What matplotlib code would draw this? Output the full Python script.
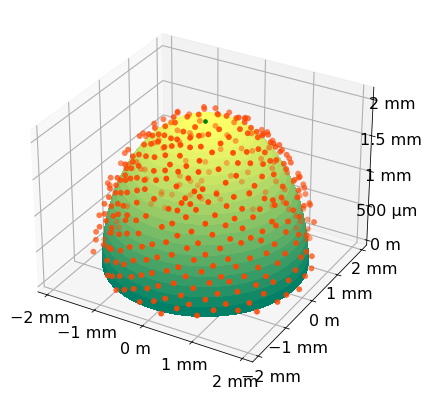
from matplotlib import pyplot as plt
from matplotlib.ticker import EngFormatter
import numpy as np

# dome size and marker radius, metres
dome_radius = 1.88e-3
dome_height = 2e-3
dot_radius = 2.06e-3

xy_ticks = [-2e-3, -1e-3, 0, 1e-3, 2e-3]
z_ticks = [0, 0.5e-3, 1e-3, 1.5e-3, 2e-3]

# dots on the near side, angles in degrees
front_polar = [86,87,84,82,84,82,85,83,87,85,83,81,79,80,78,78,81,78,85,83,81,79,77,75,76,74,74,77,85,86,86,82,81,79,77,75,73,71,72,70,72,73,75,80,83,77,75,74,71,69,67,69,66,68,69,71,72,78,83,73,72,72,70,67,65,63,65,62,64,66,67,67,70,75,75,79,67,65,63,61,61,58,60,62,61,65,69,65,65,59,57,54,56,56,57,59,60,62,59,
    57,61,54,51,53,54,56,59,59,63,67,70,49,48,50,52,53,57,60,62,59,56,55,51,49,46,45,47,49,51,52,54,58,61,54,52,50,47,45,47,46,44,43,44,44,48,50,51,56,55,49,47,45,43,42,40,38,40,41,40,42,38,42,48,51,44,42,39,37,35,34,36,33,32,36,40,42,45,39,36,34,32,29,32,27,31,28,24,31,28,33,36,37,39,43,32,29,26,26,24,22,22,21,20,26,30,33,37,40,27,24,20,22,21,20,15,17,10,15,14,12,18,18,22,27,29,34,15,9,4,7,11,16,20,23,26]
front_azim = [296,278,286,292,304,310,316,322,326,266,274,280,288,300,306,316,330,336,250,256,262,270,276,284,294,302,312,326,344,354,338,242,246,252,260,266,272,280,290,298,308,320,332,346,0,240,248,254,260,268,274,286,294,304,316,328,340,352,8,234,240,242,250,256,264,270,282,290,300,312,324,334,346,358,4,10,238,246,252,260,278,284,296,308,320,340,356,230,238,248,256,262,274,292,304,314,326,332,240,248,236,280,288,300,312,322,
    334,344,350,0,8,276,294,306,318,330,342,354,6,230,236,242,252,282,290,302,314,324,336,348,358,2,16,228,234,240,248,254,264,284,286,296,320,332,342,348,356,12,18,226,232,236,242,250,260,268,278,292,298,308,316,338,2,20,224,230,236,254,264,276,286,294,312,326,348,0,18,220,226,236,246,256,266,272,282,294,308,332,348,344,356,6,14,20,220,228,234,248,256,266,280,294,322,332,4,8,30,30,216,222,212,232,246,256,254,274,270,288,306,334,340,12,14,20,30,30,214,200,174,62,48,46,40,32,30]
# dots on the far side, seen through the dome
rear_polar = [87,83,90,90,90,86,89,83,84,85,81,79,79,76,75,70,70,73,83,89,85,81,84,85,85,88,90,89,83,75,73,80,78,76,84,87,87,80,82,74,69,63,55,58,53,55,54,61,64,63,65,68,73,78,81,
    18,20,17,24,25,23,26,30,31,29,30,32,29,36,35,37,36,34,37,42,41,43,44,42,41,43,48,47,49,48,50,47,49,56,55,57,55,54,57,56,62,61,63,60,62,61,68,67,69,68,66,
    40,46,52,58,64,70,76,82,44,50,56,62,68,74,30,36,42,48,54,60,66,72,34,46,58,70]
rear_azim = [174,166,172,178,186,150,142,144,138,128,124,122,128,134,118,120,108,96,96,94,82,74,64,60,52,50,54,64,70,72,78,86,100,106,114,112,122,134,144,154,156,164,154,136,130,122,106,98,86,76,66,62,58,56,52,
    52,122,188,62,108,158,201,72,96,121,149,177,207,54,83,109,134,161,191,46,71,98,124,147,176,199,41,66,87,113,139,166,189,37,76,101,129,151,183,204,43,91,111,146,171,198,47,79,131,159,188,
    226,228,224,222,225,223,221,218,218,220,217,219,216,218,36,33,38,35,31,34,30,27,44,41,46,42]

plt.rcParams['grid.linewidth'] = 1.1

fig = plt.figure(figsize=(425/72, 398/72), dpi=72)
ax = fig.add_axes([0.021, 0.03, 0.90, 0.96], projection='3d', computed_zorder=False)

polar = np.radians(np.linspace(0, 88.5, 24))
az = np.linspace(0, 2*np.pi, 60)
P, A = np.meshgrid(polar, az)
X = dome_radius*np.sin(P)*np.cos(A)
Y = dome_radius*np.sin(P)*np.sin(A)
Z = dome_height*np.cos(P)
ax.plot_surface(X, Y, Z, cmap='summer', rstride=1, cstride=1, antialiased=False, linewidth=0, zorder=1)

dot_p = np.radians(front_polar + rear_polar)
dot_a = np.radians(front_azim + rear_azim)
ax.scatter(dot_radius*np.sin(dot_p)*np.cos(dot_a), dot_radius*np.sin(dot_p)*np.sin(dot_a),
           dot_radius*np.cos(dot_p), color='orangered', s=34, linewidths=0, zorder=2)
ax.scatter([0], [0], [dome_height], color='green', s=22, linewidths=0, zorder=3)

ax.set_xlim(-2.2e-3, 2.2e-3)
ax.set_ylim(-2.2e-3, 2.2e-3)
ax.set_zlim(-0.07e-3, 2.17e-3)
ax.set_xticks(xy_ticks)
ax.set_yticks(xy_ticks)
ax.set_zticks(z_ticks)
for axis in (ax.xaxis, ax.yaxis, ax.zaxis):
    axis.set_major_formatter(EngFormatter(unit='m'))
    axis.set_tick_params(labelsize=16)
fig.savefig('out.png', dpi=72)
